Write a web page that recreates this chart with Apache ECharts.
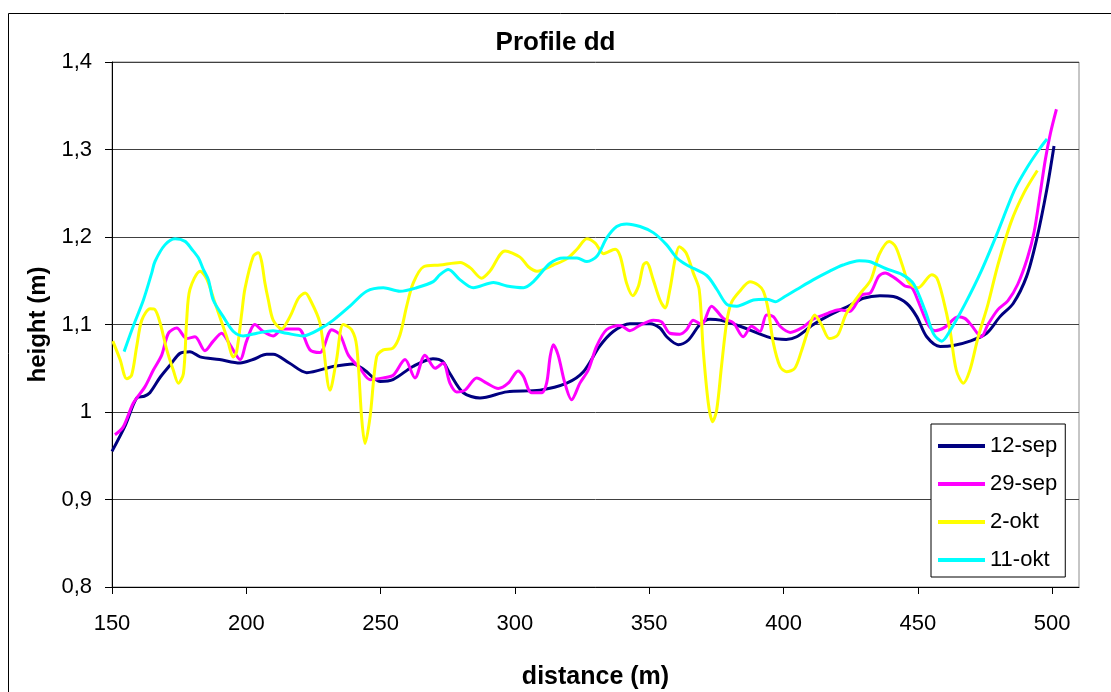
<!DOCTYPE html>
<html>
<head>
<meta charset="utf-8">
<script src="https://cdn.jsdelivr.net/npm/echarts@6/dist/echarts.min.js"></script>
<style>
  html, body { margin: 0; padding: 0; background: #fff; }
  #chart { width: 1111px; height: 692px; }
</style>
</head>
<body>
<div id="chart"></div>
<script>
// Height profile "dd": distance along the profile (m) vs. surface height (m)
const seriesNames = ['12-sep', '29-sep', '2-okt', '11-okt'];
const seriesColors = ['#000080', '#FF00FF', '#FFFF00', '#00FFFF'];
const xTicks = [150, 200, 250, 300, 350, 400, 450, 500];

const sep12 = [
  [150, 0.955], [155, 0.985], [159.2, 1.016], [162, 1.018], [164.1, 1.022], [168, 1.040],
  [172, 1.055], [175.3, 1.067], [179, 1.069], [182.8, 1.063], [190, 1.060], [197.7, 1.056],
  [202.5, 1.060], [207.6, 1.066], [210, 1.066], [216, 1.056], [222.5, 1.045], [232.3, 1.052],
  [239.8, 1.055], [244, 1.048], [249.8, 1.035], [254.6, 1.037], [262, 1.052], [269.5, 1.061],
  [273, 1.058], [275.8, 1.044], [280.8, 1.022], [287, 1.016], [297, 1.023], [309.3, 1.025],
  [319.3, 1.033], [325.5, 1.046], [331.5, 1.075], [336.6, 1.092], [342.8, 1.101], [350.3, 1.101],
  [354, 1.096], [356.5, 1.086], [360.8, 1.077], [364.5, 1.082], [368.9, 1.100], [372.6, 1.106],
  [376.4, 1.105], [383.8, 1.098], [395, 1.085], [401, 1.083], [404.9, 1.086], [411.1, 1.100],
  [417.3, 1.111], [424.8, 1.122], [429.7, 1.130], [435.9, 1.133], [440.9, 1.132], [445.9, 1.124],
  [449.6, 1.109], [453.3, 1.086], [458.3, 1.075], [463.2, 1.076], [469.4, 1.081], [475.6, 1.090],
  [480.6, 1.109], [485.5, 1.124], [490.5, 1.155], [494.2, 1.197], [498, 1.254], [500.7, 1.304]
];

const sep29 = [
  [151.1, 0.974], [154.2, 0.983], [157.9, 1.010], [162.3, 1.029], [165.4, 1.048], [168.5, 1.065],
  [171, 1.090], [174.1, 1.096], [177.8, 1.084], [180.9, 1.086], [184.6, 1.070], [187.7, 1.081],
  [190.8, 1.090], [193.9, 1.077], [197.7, 1.060], [200.1, 1.081], [203.2, 1.100], [206.3, 1.092],
  [210, 1.087], [213.6, 1.095], [219.4, 1.095], [223.7, 1.071], [227.4, 1.068], [231.8, 1.094],
  [234.9, 1.088], [238, 1.065], [242.3, 1.050], [246.1, 1.037], [251, 1.039], [254.7, 1.042],
  [259.1, 1.060], [262.8, 1.039], [266.5, 1.065], [270.3, 1.050], [273.3, 1.056], [275.8, 1.033],
  [278.3, 1.023], [281.4, 1.025], [285.8, 1.039], [289.5, 1.033], [293.8, 1.027], [297.5, 1.033],
  [301.2, 1.047], [303.1, 1.041], [306.2, 1.022], [309.9, 1.022], [311.8, 1.033], [313.1, 1.063],
  [314.3, 1.077], [316.1, 1.065], [318.6, 1.033], [321.1, 1.014], [324.2, 1.033], [327.3, 1.048],
  [330.4, 1.075], [334.1, 1.094], [339.1, 1.099], [342.8, 1.093], [346.5, 1.099], [351.5, 1.105],
  [354.6, 1.103], [357.7, 1.090], [361.4, 1.089], [363.9, 1.094], [366.4, 1.105], [369.5, 1.100],
  [373.2, 1.121], [377.6, 1.107], [381.3, 1.102], [385, 1.086], [388.1, 1.098], [391.2, 1.092],
  [393.7, 1.111], [396.2, 1.109], [398.7, 1.098], [402.5, 1.091], [407.3, 1.097], [411, 1.106],
  [415.9, 1.112], [420.6, 1.117], [424.5, 1.115], [429.2, 1.134], [432.3, 1.136], [435.4, 1.155],
  [437.8, 1.159], [441.5, 1.153], [445.2, 1.144], [447.8, 1.142], [450.1, 1.127], [453.8, 1.100],
  [456.4, 1.093], [460.1, 1.097], [465, 1.109], [467.5, 1.107], [470, 1.099], [473.6, 1.086],
  [476.1, 1.100], [479.8, 1.117], [483.5, 1.127], [487.2, 1.146], [490.8, 1.176], [493.3, 1.206],
  [495.6, 1.251], [497.5, 1.289], [499.4, 1.319], [501.6, 1.346]
];

const okt2 = [
  [150.3, 1.081], [153, 1.060], [155.5, 1.038], [157.3, 1.042], [159.2, 1.075], [161.1, 1.105],
  [164.2, 1.118], [166, 1.117], [167.9, 1.102], [170.4, 1.071], [172.8, 1.048], [174.7, 1.033],
  [176.6, 1.044], [177.8, 1.105], [179, 1.140], [182.8, 1.161], [185.3, 1.152], [188.3, 1.125],
  [192.7, 1.086], [195.2, 1.063], [196.4, 1.069], [198.3, 1.113], [199.5, 1.141], [202.6, 1.178],
  [204.5, 1.182], [205.7, 1.172], [206.9, 1.148], [208.2, 1.128], [210, 1.105], [213.2, 1.095],
  [215, 1.102], [216.9, 1.113], [219.4, 1.130], [221.9, 1.136], [223.5, 1.130], [227.4, 1.102],
  [231.2, 1.025], [233.6, 1.060], [236.1, 1.100], [239.2, 1.094], [241.1, 1.075], [243, 0.991],
  [244.2, 0.964], [246.1, 0.995], [248.5, 1.063], [251, 1.071], [254.6, 1.073], [257.2, 1.088],
  [259.7, 1.121], [262.1, 1.147], [266, 1.166], [272.1, 1.168], [279.6, 1.171], [283.3, 1.165],
  [287.6, 1.153], [290.7, 1.161], [296.3, 1.184], [301.9, 1.177], [305, 1.166], [308.2, 1.161],
  [314.3, 1.168], [319.3, 1.175], [323.1, 1.186], [326.8, 1.198], [329.9, 1.193], [333, 1.181],
  [337.3, 1.186], [339.2, 1.178], [341.6, 1.147], [343.9, 1.133], [346, 1.144], [347.8, 1.168],
  [349, 1.171], [351.5, 1.151], [354, 1.128], [355.9, 1.119], [357.7, 1.140], [359.6, 1.174],
  [361.2, 1.189], [363.7, 1.182], [366.4, 1.159], [368.6, 1.140], [370.1, 1.071], [372, 1.010],
  [373.6, 0.989], [375.1, 1.002], [376.9, 1.052], [378.8, 1.102], [380.6, 1.125], [383.7, 1.138],
  [387.5, 1.149], [390.6, 1.145], [392.5, 1.138], [394.3, 1.117], [396.2, 1.079], [398.7, 1.052],
  [401.1, 1.046], [404.2, 1.050], [406.7, 1.070], [409.1, 1.093], [411.6, 1.111], [414.1, 1.100],
  [417.1, 1.084], [420.2, 1.088], [423.3, 1.112], [428.2, 1.134], [432.5, 1.151], [435.6, 1.180],
  [439.3, 1.195], [441.7, 1.189], [444.2, 1.168], [446.6, 1.148], [450.1, 1.142], [455.2, 1.157],
  [457.1, 1.153], [459.3, 1.131], [462, 1.093], [464.3, 1.048], [466.9, 1.033], [469.4, 1.048],
  [472.4, 1.085], [476.1, 1.123], [479.8, 1.168], [484.7, 1.217], [489.6, 1.251], [494.5, 1.276]
];

const okt11 = [
  [154.5, 1.069], [157.9, 1.098], [161.7, 1.128], [164.8, 1.159], [166, 1.172], [169.7, 1.191],
  [173.5, 1.198], [177.2, 1.195], [179.7, 1.186], [182.2, 1.176], [184, 1.163], [185.9, 1.151],
  [187.7, 1.128], [191.4, 1.109], [195.2, 1.092], [198.9, 1.087], [203.9, 1.090], [210, 1.093],
  [215, 1.090], [221.2, 1.087], [227.4, 1.095], [232.4, 1.105], [238.6, 1.121], [244.8, 1.138],
  [251, 1.142], [257.2, 1.138], [263.4, 1.142], [269.6, 1.149], [272.1, 1.157], [275.2, 1.163],
  [279.6, 1.151], [284.5, 1.142], [292, 1.148], [297, 1.144], [303.2, 1.142], [306.9, 1.149],
  [313.1, 1.170], [318.1, 1.176], [323.1, 1.176], [326.8, 1.172], [330.5, 1.178], [334.2, 1.199],
  [337.9, 1.212], [341.6, 1.215], [346.6, 1.212], [351.5, 1.205], [356.5, 1.191], [360.3, 1.176],
  [364, 1.168], [371.4, 1.156], [375.2, 1.140], [378.9, 1.123], [382.6, 1.121], [388.8, 1.128],
  [393.8, 1.129], [396.9, 1.126], [400.5, 1.132], [404.9, 1.140], [411, 1.151], [417.2, 1.161],
  [422.1, 1.168], [428.2, 1.173], [431.9, 1.172], [438, 1.164], [444.2, 1.157], [448.5, 1.146],
  [452.8, 1.115], [455.9, 1.089], [458.9, 1.081], [462, 1.093], [467.5, 1.123], [473.6, 1.161],
  [479.8, 1.206], [485.9, 1.253], [490.8, 1.280], [495.6, 1.302], [498.1, 1.312]
];

const seriesData = [sep12, sep29, okt2, okt11];

// Decimal comma, no trailing zeros: 1,4 / 1 / 0,9
function commaNumber(v) {
  return String(Number(v.toFixed(1))).replace('.', ',');
}

const FONT = '"Liberation Sans", Arial, sans-serif';

const chart = echarts.init(document.getElementById('chart'), null, { renderer: 'canvas' });

chart.setOption({
  backgroundColor: '#ffffff',
  animation: false,
  title: {
    text: 'Profile dd',
    left: 'center',
    top: 25,
    textStyle: { fontFamily: FONT, fontSize: 26, fontWeight: 'bold', color: '#000' }
  },
  graphic: [{
    type: 'rect',
    shape: { x: 8.5, y: 13.5, width: 1200, height: 800 },
    style: { fill: null, stroke: '#000', lineWidth: 1 },
    silent: true,
    z: -10
  }],
  legend: {
    orient: 'vertical',
    left: 931,
    top: 424,
    icon: 'rect',
    itemWidth: 47,
    itemHeight: 4,
    itemGap: 16,
    padding: [11, 8, 6, 7],
    backgroundColor: '#ffffff',
    borderColor: '#000',
    borderWidth: 1,
    textStyle: { fontFamily: FONT, fontSize: 22, color: '#000' },
    data: seriesNames
  },
  grid: {
    left: 112,
    top: 62,
    width: 967,
    height: 525,
    outerBoundsMode: 'none',
    containLabel: false,
    show: true,
    borderColor: '#8c8c8c',
    borderWidth: 1,
    backgroundColor: '#ffffff'
  },
  xAxis: {
    type: 'value',
    min: 150,
    max: 510,
    interval: 50,
    name: 'distance (m)',
    nameLocation: 'middle',
    nameGap: 78,
    nameTextStyle: { fontFamily: FONT, fontSize: 25, fontWeight: 'bold', color: '#000' },
    axisLine: { lineStyle: { color: '#000', width: 1 } },
    axisTick: { show: true, length: 7, lineStyle: { color: '#000' }, customValues: xTicks },
    axisLabel: {
      fontFamily: FONT, fontSize: 22, color: '#000', margin: 26,
      customValues: xTicks
    },
    splitLine: { show: false }
  },
  yAxis: {
    type: 'value',
    min: 0.8,
    max: 1.4,
    interval: 0.1,
    name: 'height (m)',
    nameLocation: 'middle',
    nameGap: 62,
    nameTextStyle: { fontFamily: FONT, fontSize: 24, fontWeight: 'bold', color: '#000' },
    axisLine: { show: true, lineStyle: { color: '#000', width: 1 } },
    axisTick: { show: true, length: 7, lineStyle: { color: '#000' } },
    axisLabel: {
      fontFamily: FONT, fontSize: 22, color: '#000', margin: 20,
      formatter: commaNumber
    },
    splitLine: { show: true, lineStyle: { color: '#404040', width: 1 } }
  },
  series: seriesNames.map((name, i) => ({
    name: name,
    type: 'line',
    data: seriesData[i],
    smooth: 0.3,
    symbol: 'none',
    color: seriesColors[i],
    lineStyle: { color: seriesColors[i], width: 3 },
    z: 2 + i
  }))
});
</script>
</body>
</html>
